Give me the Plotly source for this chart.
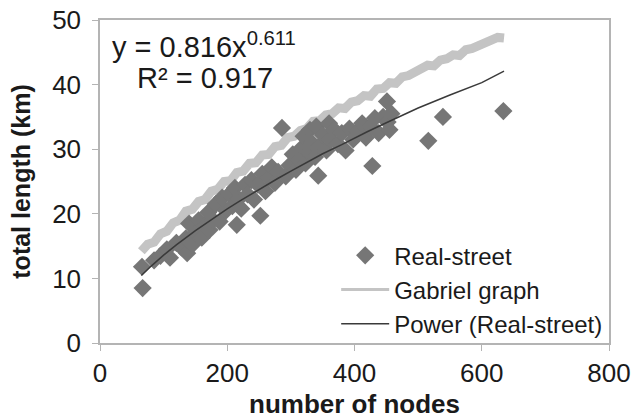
import plotly.graph_objects as go

# Real-street observations (number of nodes, total length km)
street_nodes = [67, 66, 85, 95, 105, 110, 120, 128, 135, 137, 140, 145, 150, 155, 160, 165,
                170, 172, 178, 182, 188, 192, 198, 203, 208, 212, 215, 218, 222, 228, 232,
                238, 242, 248, 252, 255, 260, 265, 270, 275, 280, 286, 292, 298, 303, 308,
                313, 318, 320, 323, 328, 330, 333, 338, 340, 343, 345, 350, 356, 360, 362,
                368, 374, 380, 386, 392, 398, 405, 412, 418, 425, 428, 432, 438, 445, 451,
                452, 455, 458, 516, 539, 634]
street_len = [8.5, 11.8, 12.8, 13.5, 14.5, 13.2, 15.5, 14.8, 16.2, 13.9, 18.5, 15.2, 17.0, 19.0,
              16.3, 18.2, 20.2, 17.5, 19.0, 21.5, 18.8, 22.5, 20.5, 23.0, 21.2, 24.0, 18.3, 22.3,
              20.8, 24.5, 23.0, 25.2, 22.2, 24.5, 19.7, 26.2, 23.5, 25.5, 27.2, 24.8, 26.5,
              33.3, 25.8, 27.5, 29.2, 26.8, 28.3, 30.3, 32.0, 27.8, 29.5, 33.0, 31.0, 28.8,
              33.5, 25.9, 30.5, 32.2, 29.8, 34.0, 31.5, 33.0, 30.8, 32.5, 29.8, 33.2, 31.5,
              32.8, 34.0, 31.8, 33.5, 27.4, 34.8, 32.5, 35.0, 37.4, 34.2, 33.0, 35.5, 31.3,
              35.0, 35.9]

# Gabriel graph lengths
gabriel_nodes = list(range(65, 645, 10))
gabriel_len = [14.2, 15.3, 15.6, 16.9, 17.3, 18.6, 19.0, 20.4, 20.7, 21.9, 22.2, 23.5, 23.8,
               25.0, 25.1, 26.4, 26.6, 27.8, 27.9, 29.1, 29.2, 30.4, 30.6, 31.8, 32.0, 32.9,
               33.2, 34.3, 34.4, 35.3, 35.5, 36.4, 36.3, 37.3, 37.5, 38.3, 38.2, 39.3, 39.4,
               40.3, 40.2, 41.2, 41.4, 42.0, 42.2, 43.0, 42.9, 43.8, 44.0, 44.6, 44.5, 45.4,
               45.6, 46.1, 46.4, 46.9, 47.3, 47.2]

# power trend line y = 0.816x^0.611
trend_nodes = [65, 80, 100, 120, 150, 180, 200, 220, 250, 280, 300, 320, 350, 380, 400, 420,
               450, 500, 550, 600, 635]
trend_len = [10.45, 11.87, 13.6, 15.2, 17.4, 19.5, 20.78, 22.0, 23.8, 25.5, 26.62, 27.7, 29.3,
             30.7, 31.73, 32.7, 34.1, 36.38, 38.4, 40.3, 42.09]

FONT = "Arial, Liberation Sans, sans-serif"
AXIS_GRAY = "#b4b4b4"

fig = go.Figure()

fig.add_trace(go.Scatter(x=gabriel_nodes, y=gabriel_len, mode="lines",
                         line=dict(color="#c4c4c4", width=9), showlegend=False))
fig.add_trace(go.Scatter(x=street_nodes, y=street_len, mode="markers", name="Real-street",
                         marker=dict(symbol="diamond", size=14, color="#767676")))
fig.add_trace(go.Scatter(x=[None], y=[None], mode="lines", name="Gabriel graph",
                         line=dict(color="#c4c4c4", width=3)))
fig.add_trace(go.Scatter(x=trend_nodes, y=trend_len, mode="lines", name="Power (Real-street)",
                         line=dict(color="#3a3a3a", width=1.5)))

fig.add_annotation(xref="paper", yref="paper", x=0.02, y=0.923, xanchor="left",
                   yanchor="middle", showarrow=False,
                   text="y = 0.816x<sup>0.611</sup>", font=dict(size=29, color="#1a1a1a"))
fig.add_annotation(xref="paper", yref="paper", x=0.069, y=0.82, xanchor="left",
                   yanchor="middle", showarrow=False,
                   text="R² = 0.917", font=dict(size=29, color="#1a1a1a"))

fig.update_layout(
    width=633, height=419,
    margin=dict(l=100, r=24, t=20, b=76),
    paper_bgcolor="white", plot_bgcolor="white",
    font=dict(family=FONT, size=24, color="#1a1a1a"),
    legend=dict(x=0.464, y=0.34, xanchor="left", yanchor="top", itemwidth=48,
                bgcolor="rgba(0,0,0,0)", font=dict(size=24), tracegroupgap=0),
    xaxis=dict(range=[0, 800], dtick=200, showgrid=False, zeroline=False,
               showline=True, linecolor=AXIS_GRAY, linewidth=1.5, mirror=True,
               ticks="outside", ticklen=6, tickcolor=AXIS_GRAY, automargin=False,
               tickfont=dict(size=26),
               title=dict(text="<b>number of nodes</b>", standoff=11, font=dict(size=26))),
    yaxis=dict(range=[0, 50], dtick=10, showgrid=False, zeroline=False,
               showline=True, linecolor=AXIS_GRAY, linewidth=1.5, mirror=True,
               ticks="outside", ticklen=6, tickcolor=AXIS_GRAY, automargin=False,
               tickfont=dict(size=26), ticklabelstandoff=6,
               title=dict(text="<b>total length (km)</b>", standoff=14, font=dict(size=25))),
)

# drop the default page margin so the chart sits at the window's top-left
fig.write_html("out.html", config={"displayModeBar": False},
               post_script="document.body.style.margin='0';")
